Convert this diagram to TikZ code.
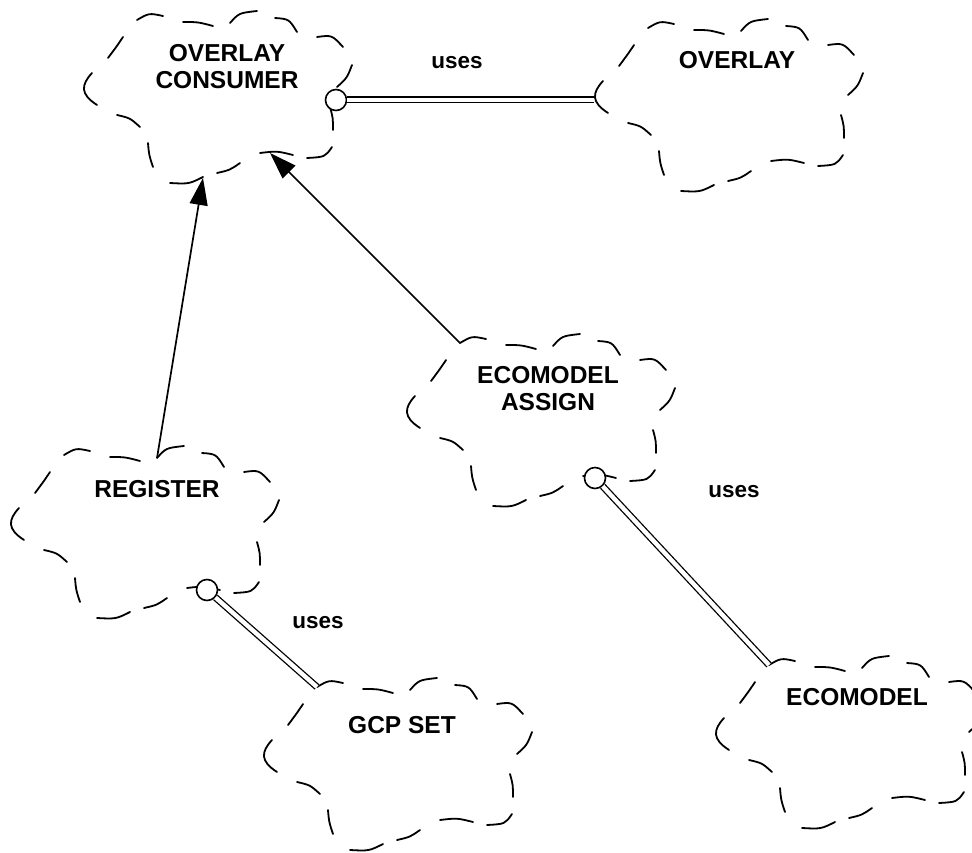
\documentclass[tikz,border=0pt]{standalone}
\usepackage{fontspec}
\setmainfont{Liberation Sans}
\usetikzlibrary{arrows.meta,calc}

\tikzset{
  cloudline/.style={line width=1.8pt, line cap=round},
  classname/.style={font=\bfseries\fontsize{24.5}{27}\selectfont, align=center, inner sep=0pt},
  useslabel/.style={font=\bfseries\fontsize{22.5}{27}\selectfont, inner sep=0pt},
  usesline/.style={draw=black, line width=1.3pt, double=white, double distance=4.4pt},
  usesend/.style={circle, draw, line width=1.6pt, fill=white, minimum size=21pt, inner sep=0pt},
  inherits/.style={line width=1.7pt, -{Triangle[length=27pt,width=18pt]}},
  % Booch class icon: a dashed cloud, drawn stroke by stroke
  classcloud/.pic={
    \draw[cloudline]
      (-80,-77) .. controls (-68,-84) .. (-54,-81)
      (-34,-75) .. controls (-19,-75) .. (-4,-71)
      (13,-74) .. controls (22,-84) .. (40,-86)
      (58,-79) .. controls (72,-78) .. (80,-65)
      (100,-60) .. controls (115,-62) .. (126,-50)
      (135,-32) .. controls (130,-19) .. (120,-10)
      (113,10) .. controls (116,21) .. (116,33)
      (115,50) .. controls (108,60) .. (90,61)
      (76,58) .. controls (60,54) .. (43,56)
      (23,66) .. controls (13,73) .. (0,76)
      (-14,80) .. controls (-28,87) .. (-47,86)
      (-64,70) .. controls (-68,58) .. (-69,46)
      (-77,30) .. controls (-87,21) .. (-100,18)
      (-120,8) .. controls (-137,-3) and (-136,-12) .. (-125,-24)
      (-109,-39) .. controls (-100,-51) .. (-94,-60);
    \coordinate (-c) at (0,0);
    \coordinate (-w) at (-134,-5);
    \coordinate (-nw) at (-80,-77);
    \coordinate (-n) at (13,-74);
  }
}

\begin{document}
\begin{tikzpicture}[x=1pt, y=-1pt]
  \fill[white] (0,0) rectangle (972,853);
  \useasboundingbox (0,0) rectangle (972,853);

  % class clouds
  \pic (oc) at (217,97)  {classcloud};
  \pic (ov) at (728,105) {classcloud};
  \pic (ea) at (540,420) {classcloud};
  \pic (rg) at (144,532) {classcloud};
  \pic (gs) at (397,764) {classcloud};
  \pic (em) at (849,742) {classcloud};

  % class names
  \node[classname] (oc-name) at (227,67)  {OVERLAY\\CONSUMER};
  \node[classname] (ov-name) at (737,60)  {OVERLAY};
  \node[classname] (ea-name) at (548,389) {ECOMODEL\\ASSIGN};
  \node[classname] (rg-name) at (157,489) {REGISTER};
  \node[classname] (gs-name) at (402,725) {GCP SET};
  \node[classname] (em-name) at (857,697) {ECOMODEL};

  % "uses" relations: double line ending in an open circle at the client
  \node[usesend] (oc-port) at (336,100) {};
  \node[usesend] (ea-port) at (595,478) {};
  \node[usesend] (rg-port) at (207,590) {};
  \draw[usesline] (oc-port) -- (ov-w);
  \draw[usesline] (ea-port) -- (em-nw);
  \draw[usesline] (rg-port) -- (gs-nw);

  \node[useslabel] (uses-ov) at (457,63)  {uses};
  \node[useslabel] (uses-em) at (734,492) {uses};
  \node[useslabel] (uses-gs) at (318,623) {uses};

  % inheritance arrows into OVERLAY CONSUMER
  \coordinate (oc-in1) at (203,178);
  \coordinate (oc-in2) at (270,153);
  \draw[inherits] (rg-n) -- (oc-in1);
  \draw[inherits] (ea-nw) -- (oc-in2);
\end{tikzpicture}
\end{document}
